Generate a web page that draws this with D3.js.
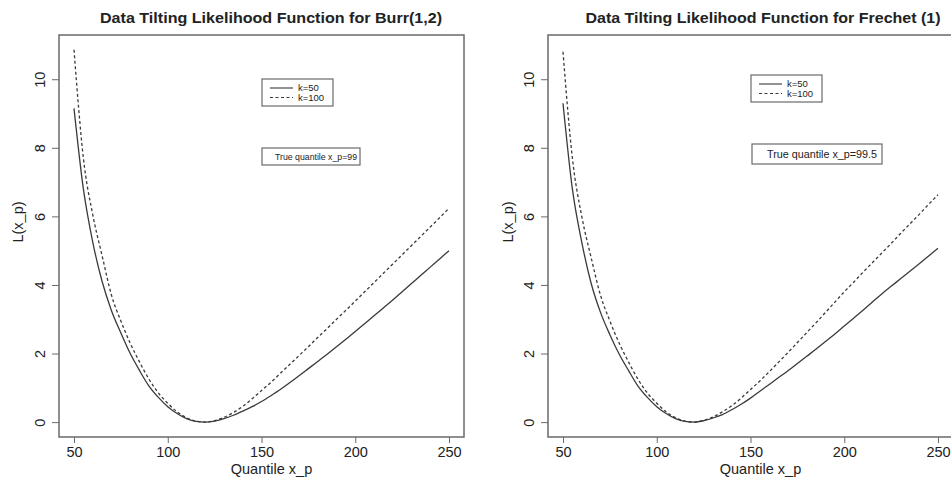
<!DOCTYPE html>
<html><head><meta charset="utf-8">
<script src="https://cdn.jsdelivr.net/npm/d3@7"></script>
<style>
body{margin:0;background:#fff}
svg{display:block}
text{font-family:"Liberation Sans",Arial,Helvetica,sans-serif;fill:#222}
</style>
</head><body>
<svg id="chart" width="951" height="478"></svg>
<script>
// ---- data ----
const quantiles = [50,55,60,65,70,75,80,85,90,95,100,105,110,115,120,125,130,135,140,145,150,155,160,165,170,175,180,185,190,195,200,205,210,215,220,225,230,235,240,245,250];
const burrK50   = [9.15,6.8,5.25,4.1,3.25,2.6,2.0,1.5,1.05,0.72,0.45,0.25,0.1,0.02,0.0,0.03,0.1,0.2,0.32,0.45,0.6,0.77,0.95,1.15,1.35,1.56,1.77,1.98,2.2,2.42,2.64,2.87,3.1,3.33,3.56,3.8,4.04,4.28,4.52,4.76,5.0];
const burrK100  = [10.86,7.7,6.05,4.85,3.7,2.95,2.3,1.75,1.25,0.85,0.55,0.3,0.13,0.03,0.0,0.04,0.14,0.28,0.46,0.68,0.92,1.16,1.42,1.68,1.94,2.2,2.47,2.73,3.0,3.26,3.53,3.8,4.07,4.34,4.61,4.88,5.15,5.42,5.69,5.96,6.24];
const frechetK50  = [9.3,6.8,5.25,4.05,3.2,2.55,1.98,1.5,1.05,0.72,0.45,0.25,0.1,0.02,0.0,0.04,0.12,0.22,0.36,0.52,0.7,0.9,1.1,1.3,1.5,1.71,1.92,2.13,2.35,2.57,2.8,3.03,3.26,3.5,3.74,3.96,4.18,4.4,4.62,4.845,5.07];
const frechetK100 = [10.8,7.7,6.0,4.8,3.7,2.95,2.3,1.75,1.25,0.85,0.55,0.3,0.13,0.03,0.0,0.05,0.15,0.3,0.48,0.7,0.95,1.2,1.47,1.75,2.03,2.32,2.61,2.9,3.2,3.5,3.8,4.08,4.37,4.65,4.93,5.21,5.5,5.78,6.06,6.35,6.63];
const xTicks = [50,100,150,200,250];
const yTicks = [0,2,4,6,8,10];
const panelTitles = ["Data Tilting Likelihood Function for Burr(1,2)","Data Tilting Likelihood Function for Frechet (1)"];
const trueQuantileLabels = ["True quantile x_p=99","True quantile x_p=99.5"];
const legendLabels = ["k=50","k=100"];
const xLabel = "Quantile x_p";
const yLabel = "L(x_p)";

// ---- layout ----
const svg = d3.select("#chart");
const panels = [
  {x0:59, x1:464, titleX:271, titleW:342, ylab:18, series:[burrK50,burrK100], legend:{x:262,y:79,w:71,h:27}, tq:{x:262,y:148,w:98,h:17,tx:275,tw:82,fs:9}},
  {x0:548, x1:953, titleX:763, titleW:355, ylab:508, series:[frechetK50,frechetK100], legend:{x:751,y:75,w:71,h:27}, tq:{x:752,y:144,w:130,h:20,tx:767,tw:110,fs:10.5}}
];
const plotTop = 35, plotBottom = 437;
const lineColor = "#3a3a3a", boxColor = "#6a6a6a";
const dashes = [null, "3,2.5"];

panels.forEach((p, i) => {
  const x = d3.scaleLinear().domain([42,258]).range([p.x0, p.x1]);
  const y = d3.scaleLinear().domain([-0.434, 11.29]).range([plotBottom, plotTop]);
  const g = svg.append("g");

  g.append("text").attr("x", p.titleX).attr("y", 23).attr("text-anchor","middle")
    .attr("font-size", 14).attr("font-weight","bold")
    .attr("textLength", p.titleW).attr("lengthAdjust","spacingAndGlyphs")
    .text(panelTitles[i]);

  const xa = g.append("g").attr("transform", `translate(0,${plotBottom})`)
    .call(d3.axisBottom(x).tickValues(xTicks).tickSize(6).tickPadding(4).tickSizeOuter(0));
  xa.select(".domain").remove();
  xa.selectAll("line").attr("stroke", boxColor);
  xa.selectAll("text").attr("font-size", 14.5).attr("fill","#222").attr("font-family",'"Liberation Sans",Arial,sans-serif');

  const ya = g.append("g").attr("transform", `translate(${p.x0},0)`)
    .call(d3.axisLeft(y).tickValues(yTicks).tickSize(7).tickSizeOuter(0));
  ya.select(".domain").remove();
  ya.selectAll("line").attr("stroke", boxColor);
  ya.selectAll("text").attr("font-size", 14.5).attr("fill","#222").attr("font-family",'"Liberation Sans",Arial,sans-serif')
    .attr("x", null).attr("dy", null)
    .attr("text-anchor","middle")
    .attr("transform", `translate(${-19},0) rotate(-90)`)
    .attr("dy","0.36em");

  g.append("text").attr("x", (x(50)+x(250))/2 + 10).attr("y", 474).attr("text-anchor","middle")
    .attr("font-size", 14.5).text(xLabel);
  g.append("text").attr("transform", `translate(${p.ylab + 5},${222}) rotate(-90)`).attr("text-anchor","middle")
    .attr("font-size", 14.5).text(yLabel);

  const line = d3.line().x((d,j) => x(quantiles[j])).y(d => y(d)).curve(d3.curveMonotoneX);
  p.series.forEach((s, k) => {
    g.append("path").datum(s).attr("d", line).attr("fill","none")
      .attr("stroke", lineColor).attr("stroke-width", 1.3)
      .attr("stroke-dasharray", dashes[k]);
  });

  g.append("rect").attr("x", p.x0).attr("y", plotTop).attr("width", p.x1 - p.x0).attr("height", plotBottom - plotTop)
    .attr("fill","none").attr("stroke", boxColor).attr("stroke-width", 1.5);

  const L = p.legend;
  g.append("rect").attr("x", L.x).attr("y", L.y).attr("width", L.w).attr("height", L.h)
    .attr("fill","#fff").attr("stroke", boxColor).attr("stroke-width", 1.2);
  legendLabels.forEach((lab, k) => {
    const ly = L.y + 9 + k*9.5;
    g.append("line").attr("x1", L.x + 8).attr("x2", L.x + 31).attr("y1", ly).attr("y2", ly)
      .attr("stroke", lineColor).attr("stroke-width", 1.1).attr("stroke-dasharray", dashes[k]);
    g.append("text").attr("x", L.x + 36).attr("y", ly).attr("dy","0.35em")
      .attr("font-size", 9.5).text(lab);
  });

  const T = p.tq;
  g.append("rect").attr("x", T.x).attr("y", T.y).attr("width", T.w).attr("height", T.h)
    .attr("fill","#fff").attr("stroke", boxColor).attr("stroke-width", 1.2);
  g.append("text").attr("x", T.tx).attr("y", T.y + T.h/2).attr("dy","0.35em")
    .attr("font-size", T.fs).attr("textLength", T.tw).attr("lengthAdjust","spacingAndGlyphs")
    .text(trueQuantileLabels[i]);
});
</script>
</body></html>
